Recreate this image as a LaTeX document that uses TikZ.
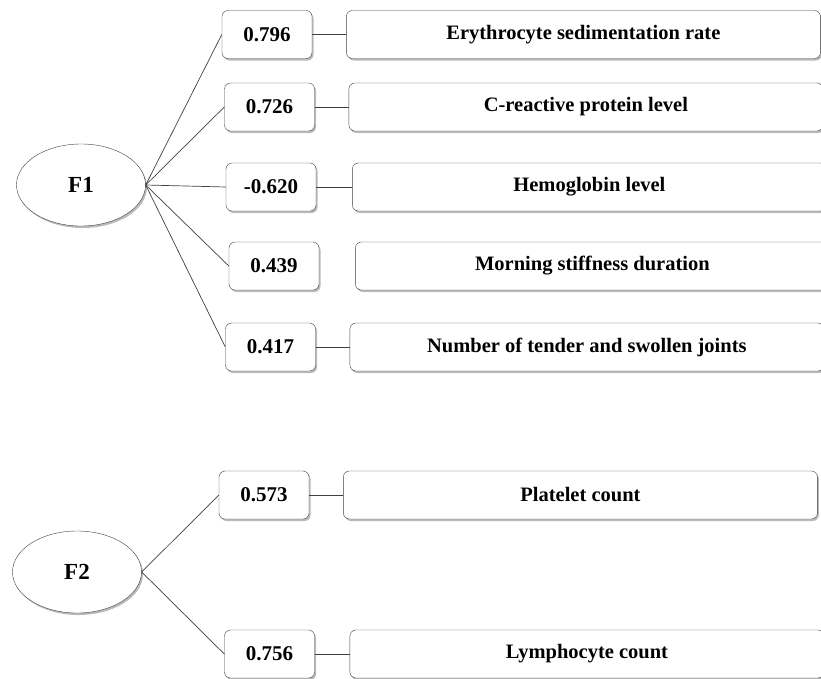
\documentclass[tikz,border=0pt]{standalone}
\usepackage{fontspec}
\setmainfont{Liberation Serif}
\usetikzlibrary{positioning,shapes.geometric,shadows}

\begin{document}
\begin{tikzpicture}[x=1pt, y=-1pt,
    shade/.style={drop shadow={shadow xshift=1.5pt, shadow yshift=-2pt, fill=black!60, opacity=.45}},
    factor/.style={draw=black!75, ellipse, minimum width=129pt, minimum height=82pt,
                   inner sep=0pt, fill=white, shade, font=\fontsize{23}{28}\selectfont\bfseries},
    loadbox/.style={draw=black!75, rectangle, rounded corners=6pt, minimum width=90pt,
                    minimum height=48pt, fill=white, shade, font=\fontsize{21}{25}\selectfont\bfseries},
    varbox/.style={loadbox, minimum width=474pt, font=\fontsize{20.5}{25}\selectfont\bfseries},
    link/.style={draw=black!75, line width=0.7pt}
  ]
  \useasboundingbox (0,0) rectangle (821,678);

  \node[factor] (f1) at (81,185) {F1};
  \node[factor] (f2) at (77,572) {F2};

  \node[loadbox] (n1) at (267,34.5) {0.796};
  \node[loadbox] (n2) at (269.5,107) {0.726};
  \node[loadbox] (n3) at (271,187)   {-0.620};
  \node[loadbox] (n4) at (274,266)   {0.439};
  \node[loadbox] (n5) at (270.5,347) {0.417};
  \node[loadbox] (n6) at (264,495)   {0.573};
  \node[loadbox] (n7) at (269.5,654) {0.756};

  \node[varbox, right=34pt of n1] (v1) {Erythrocyte sedimentation rate};
  \node[varbox, right=34pt of n2] (v2) {C-reactive protein level};
  \node[varbox, right=36pt of n3] (v3) {Hemoglobin level};
  \node[varbox, right=36pt of n4] (v4) {Morning stiffness duration};
  \node[varbox, right=34pt of n5] (v5) {Number of tender and swollen joints};
  \node[varbox, right=34pt of n6] (v6) {Platelet count};
  \node[varbox, right=35pt of n7] (v7) {Lymphocyte count};

  \draw[link] (f1.east) -- (n1.west);
  \draw[link] (f1.east) -- (n2.west);
  \draw[link] (f1.east) -- (n3.west);
  \draw[link] (f1.east) -- (n4.west);
  \draw[link] (f1.east) -- (n5.west);
  \draw[link] (f2.east) -- (n6.west);
  \draw[link] (f2.east) -- (n7.west);

  \draw[link] (n1) -- (v1);
  \draw[link] (n2) -- (v2);
  \draw[link] (n3) -- (v3);
  \draw[link] (n5) -- (v5);
  \draw[link] (n6) -- (v6);
  \draw[link] (n7) -- (v7);
\end{tikzpicture}
\end{document}
